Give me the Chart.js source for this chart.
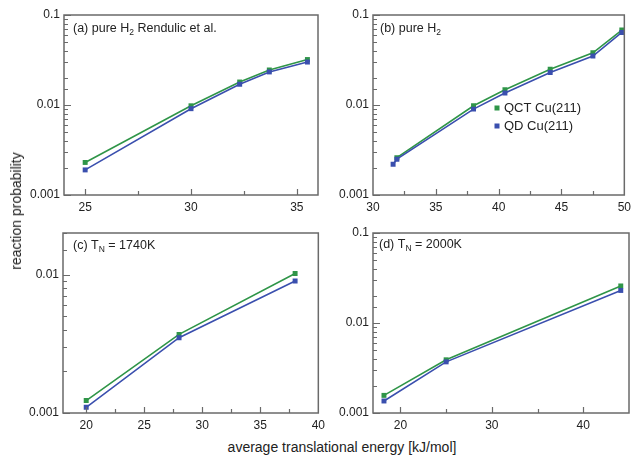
<!DOCTYPE html>
<html>
<head>
<meta charset="utf-8">
<script src="https://cdn.jsdelivr.net/npm/chart.js@4.4.0/dist/chart.umd.min.js"></script>
<style>
  body { margin: 0; background: #fff; width: 636px; height: 456px; position: relative; overflow: hidden;
         font-family: "Liberation Sans", Arial, sans-serif; color: #222; }
  .panel { position: absolute; }
  #ytitle { position: absolute; left: 16px; top: 211px; transform: translate(-50%, -50%) rotate(-90deg);
            font-size: 14px; white-space: nowrap; }
  #xtitle { position: absolute; left: 342px; top: 447px; transform: translate(-50%, -50%);
            font-size: 14px; white-space: nowrap; }
</style>
</head>
<body>
<div class="panel" style="left:0;top:0"><canvas id="pa" width="322" height="215"></canvas></div>
<div class="panel" style="left:318px;top:0"><canvas id="pb" width="318" height="215"></canvas></div>
<div class="panel" style="left:0;top:218px"><canvas id="pc" width="330" height="217"></canvas></div>
<div class="panel" style="left:318px;top:218px"><canvas id="pd" width="318" height="217"></canvas></div>
<div id="ytitle">reaction probability</div>
<div id="xtitle">average translational energy [kJ/mol]</div>
<script>
// (a) pure H2, Rendulic et al.
const aEnergy = [25, 30, 32.3, 33.7, 35.5];
const aQCT = [0.0023, 0.0098, 0.018, 0.0245, 0.032];
const aQD = [0.0019, 0.0091, 0.017, 0.0233, 0.030];
const aTicks = [25, 27.5, 30, 32.5, 35];

// (b) pure H2
const bEnergyQCT = [31.9, 38, 40.5, 44.1, 47.5, 49.8];
const bQCT = [0.0026, 0.0098, 0.0148, 0.025, 0.038, 0.068];
const bEnergyQD = [31.6, 31.9, 38, 40.5, 44.1, 47.5, 49.8];
const bQD = [0.0022, 0.0025, 0.0090, 0.0136, 0.023, 0.035, 0.064];
const bTicks = [30, 32.5, 35, 37.5, 40, 42.5, 45, 47.5, 50];

// (c) TN = 1740K
const cEnergy = [20, 28, 38];
const cQCT = [0.00123, 0.0037, 0.0102];
const cQD = [0.0011, 0.0035, 0.0090];
const cTicks = [20, 22.5, 25, 27.5, 30, 32.5, 35, 37.5, 40];

// (d) TN = 2000K
const dEnergy = [18.2, 25, 44.1];
const dQCT = [0.00157, 0.0039, 0.0258];
const dQD = [0.00136, 0.0037, 0.023];
const dTicks = [20, 25, 30, 35, 40];

const seriesNames = ['QCT Cu(211)', 'QD Cu(211)'];
const green = '#2f9548';
const blue = '#3a4fae';

function pts(xs, ys) {
  return xs.map((x, i) => ({x: x, y: ys[i]}));
}

function isMult(v, step) {
  const r = v / step;
  return Math.abs(r - Math.round(r)) < 1e-6;
}

const frameTicks = {
  id: 'frameTicks',
  afterDatasetsDraw(chart, args, o) {
    const {ctx, chartArea: a, scales: {x, y}} = chart;
    ctx.save();
    ctx.strokeStyle = '#6a6a6a';
    ctx.lineWidth = 1.2;
    ctx.beginPath();
    x.ticks.forEach(t => {
      const v = t.value;
      if (v <= x.min || v >= x.max) return;
      const px = Math.round(x.getPixelForValue(v)) + 0.5;
      ctx.moveTo(px, a.bottom);
      ctx.lineTo(px, a.bottom - (isMult(v, o.xMajor) ? 6 : 4));
    });
    y.ticks.forEach(t => {
      const e = Math.log10(t.value);
      const major = Math.abs(e - Math.round(e)) < 1e-6;
      const py = Math.round(y.getPixelForValue(t.value)) + 0.5;
      ctx.moveTo(a.left, py);
      ctx.lineTo(a.left + (major ? 7 : 4), py);
    });
    ctx.stroke();
    ctx.lineWidth = 1.5;
    ctx.strokeRect(a.left, a.top, a.right - a.left, a.bottom - a.top);

    // panel label with subscript
    ctx.fillStyle = '#222';
    ctx.textBaseline = 'alphabetic';
    let tx = a.left + o.labelPos[0];
    const ty = a.top + o.labelPos[1] + 4;
    o.label.forEach(p => {
      const sub = p[1] === 1;
      ctx.font = (sub ? '8.5px' : '12.5px') + ' "Liberation Sans", Arial, sans-serif';
      ctx.fillText(p[0], tx, ty + (sub ? 3 : 0));
      tx += ctx.measureText(p[0]).width;
    });

    // legend
    if (o.legend) {
      ctx.font = '13px "Liberation Sans", Arial, sans-serif';
      ctx.textBaseline = 'middle';
      chart.data.datasets.forEach((ds, i) => {
        const lx = a.left + o.legend[0];
        const ly = a.top + o.legend[1] + i * 18;
        ctx.fillStyle = ds.borderColor;
        ctx.fillRect(lx - 2.5, ly - 2.5, 5, 5);
        ctx.fillStyle = '#222';
        ctx.fillText(ds.label, lx + 7, ly);
      });
    }
    ctx.restore();
  }
};

const panels = [
  {id: 'pa', x: [24, 36], xTicks: aTicks, xMajor: 5, y: [0.001, 0.1], yWidth: 64, xHeight: 20,
   pad: {top: 15, right: 1, bottom: 0, left: 0},
   qct: pts(aEnergy, aQCT), qd: pts(aEnergy, aQD),
   label: [['(a) pure H'], ['2', 1], [' Rendulic et al.']], labelPos: [9, 13]},
  {id: 'pb', x: [30, 50], xTicks: bTicks, xMajor: 5, y: [0.001, 0.1], yWidth: 55, xHeight: 20,
   pad: {top: 15, right: 8, bottom: 0, left: 0},
   qct: pts(bEnergyQCT, bQCT), qd: pts(bEnergyQD, bQD),
   label: [['(b) pure H'], ['2', 1]], labelPos: [7, 13], legend: [124, 93]},
  {id: 'pc', x: [18, 40], xTicks: cTicks, xMajor: 5, y: [0.001, 0.02], yWidth: 63, xHeight: 22,
   pad: {top: 15, right: 9, bottom: 0, left: 0},
   qct: pts(cEnergy, cQCT), qd: pts(cEnergy, cQD),
   label: [['(c) T'], ['N', 1], [' = 1740K']], labelPos: [10, 12]},
  {id: 'pd', x: [17, 45], xTicks: dTicks, xMajor: 10, y: [0.001, 0.1], yWidth: 55, xHeight: 22,
   pad: {top: 15, right: 7, bottom: 0, left: 0},
   qct: pts(dEnergy, dQCT), qd: pts(dEnergy, dQD),
   label: [['(d) T'], ['N', 1], [' = 2000K']], labelPos: [6, 11]}
];

Chart.defaults.font.family = '"Liberation Sans", Arial, sans-serif';
Chart.defaults.font.size = 12;
Chart.defaults.color = '#222';

panels.forEach(p => {
  new Chart(document.getElementById(p.id), {
    type: 'line',
    data: {
      datasets: [
        {label: seriesNames[0], data: p.qct, borderColor: green, backgroundColor: green, order: 1},
        {label: seriesNames[1], data: p.qd, borderColor: blue, backgroundColor: blue, order: 0}
      ]
    },
    options: {
      responsive: false,
      animation: false,
      layout: {padding: p.pad},
      elements: {
        line: {borderWidth: 1.6, tension: 0},
        point: {pointStyle: 'rect', radius: 3.5, borderWidth: 0}
      },
      scales: {
        x: {
          type: 'linear', min: p.x[0], max: p.x[1], bounds: 'data',
          grid: {display: false, drawTicks: false},
          border: {display: false},
          afterBuildTicks: s => { s.ticks = p.xTicks.map(v => ({value: v})); },
          ticks: {
            autoSkip: false, maxRotation: 0, padding: 5,
            callback: v => isMult(v, p.xMajor) ? String(v) : ''
          },
          afterFit: s => { s.height = p.xHeight; }
        },
        y: {
          type: 'logarithmic', min: p.y[0], max: p.y[1],
          grid: {display: false, drawTicks: false},
          border: {display: false},
          ticks: {
            autoSkip: false, padding: 4,
            callback: v => {
              const e = Math.log10(v);
              return Math.abs(e - Math.round(e)) < 1e-6 ? String(Number(v.toPrecision(2))) : '';
            }
          },
          afterFit: s => { s.width = p.yWidth; }
        }
      },
      plugins: {
        legend: {display: false},
        tooltip: {enabled: false},
        frameTicks: {xMajor: p.xMajor, label: p.label, labelPos: p.labelPos, legend: p.legend}
      }
    },
    plugins: [frameTicks]
  });
});
</script>
</body>
</html>
